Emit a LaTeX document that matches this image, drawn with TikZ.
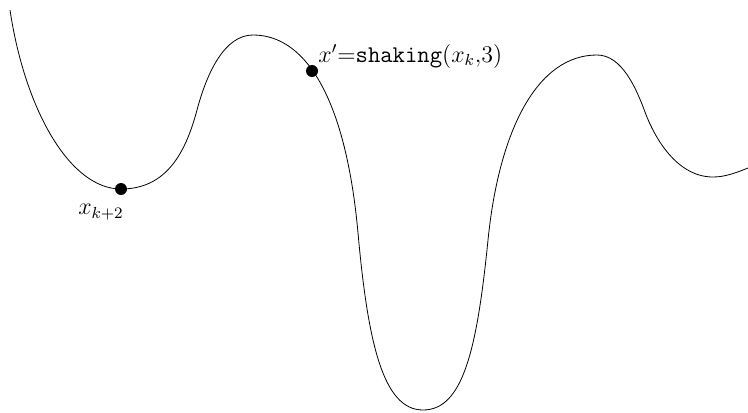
\documentclass[tikz,border=0pt]{standalone}
\begin{document}
\begin{tikzpicture}[x=0.5pt,y=-0.5pt,
  dot/.style={circle,fill=black,inner sep=0pt,minimum size=6pt},
  lbl/.style={font=\large,inner sep=0pt}]
\useasboundingbox (0,0) rectangle (748,412);
\draw[line width=0.4pt] (10,10) .. controls (25,110) and (70,189) .. (121,189)
 .. controls (166,189) and (185.4,153.5) .. (197,110)
 .. controls (207.3,71.4) and (225,35) .. (253,35)
 .. controls (308,35) and (346.3,103.5) .. (358,233)
 .. controls (367.9,342.6) and (383,410) .. (423,410)
 .. controls (463,410) and (477,349.5) .. (488,240)
 .. controls (499,130.6) and (537,55) .. (597,55)
 .. controls (622,55) and (636.3,88.6) .. (645,112)
 .. controls (655.4,140.1) and (678,177) .. (713,177)
 .. controls (725,177) and (736,172.8) .. (748,168);
\node[dot] (a) at (121,189) {};
\node[dot] (b) at (312,71) {};
\node[lbl] (la) at (101,212) {$x_{k+2}$};
\node[lbl,anchor=base west] (lb) at (318,62) {$x'{=}\texttt{shaking}(x_k{,}3)$};
\end{tikzpicture}
\end{document}
